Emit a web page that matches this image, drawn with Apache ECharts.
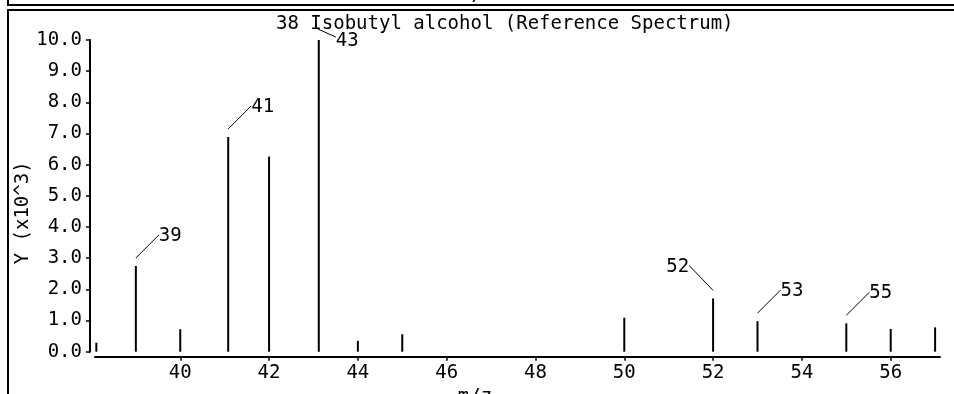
<!DOCTYPE html>
<html>
<head>
<meta charset="utf-8">
<script src="https://cdn.jsdelivr.net/npm/echarts@6/dist/echarts.min.js"></script>
<style>
  html, body { margin: 0; padding: 0; background: #fff; }
  #chart { width: 954px; height: 394px; }
</style>
</head>
<body>
<div id="chart"></div>
<script>
// ---- data ----
const titleText = '38 Isobutyl alcohol (Reference Spectrum)';
const mz = [38.11, 39, 40, 41.08, 42, 43.12, 44, 45, 50, 52, 53, 55, 56, 57];
const intensity = [0.29, 2.75, 0.72, 6.89, 6.26, 10.0, 0.35, 0.56, 1.09, 1.71, 0.98, 0.91, 0.73, 0.78]; // x10^3
const labelledIndex = [1, 3, 5, 9, 10, 11];
const peakLabels = ['39', '41', '43', '52', '53', '55'];
const xTicks = [40, 42, 44, 46, 48, 50, 52, 54, 56];
const xName = 'm/z';
const yName = 'Y (x10^3)';

const FONT = '"DejaVu Sans Mono", "Liberation Mono", monospace';
const FS = 19;

// leader-line styles per label (pixel offsets from bar top)
const leaderStyle = {
  '43': { s: [-1, -11], e: [17, -3], align: 'left', ty: 4 },
  '52': { s: [0, -8], e: [-24, -33], align: 'right', ty: 2 }
};
const defaultLeader = { s: [0, -8], e: [23, -31], align: 'left', ty: 1 };

const chart = echarts.init(document.getElementById('chart'), null, { renderer: 'canvas' });

const option = {
  backgroundColor: '#fff',
  animation: false,
  title: {
    text: titleText,
    left: 271,
    top: 10,
    textStyle: { fontFamily: FONT, fontSize: FS, fontWeight: 'normal', color: '#000' }
  },
  grid: { left: 95, right: 14, top: 40, bottom: 42.3, containLabel: false, outerBoundsMode: 'none' },
  xAxis: {
    type: 'value',
    min: 38.08,
    max: 57.11,
    offset: 5,
    name: xName,
    nameLocation: 'middle',
    nameGap: 22,
    nameTextStyle: { fontFamily: FONT, fontSize: FS, color: '#000', padding: [0, 85, 0, 0] },
    axisLine: { show: true, onZero: false, lineStyle: { color: '#000', width: 2 } },
    axisTick: { show: true, customValues: xTicks, length: 4, lineStyle: { color: '#000', width: 1.5 } },
    axisLabel: { customValues: xTicks, margin: 7, fontFamily: FONT, fontSize: FS, color: '#000' },
    splitLine: { show: false }
  },
  yAxis: {
    type: 'value',
    min: 0,
    max: 10,
    interval: 1,
    offset: 5,
    name: yName,
    nameLocation: 'middle',
    nameGap: 57,
    nameRotate: 90,
    nameMoveOverlap: false,
    nameTextStyle: { fontFamily: FONT, fontSize: FS, color: '#000', padding: [0, 34, 0, 0] },
    axisLine: { show: true, onZero: false, lineStyle: { color: '#000', width: 2 } },
    axisTick: { show: true, length: 4, lineStyle: { color: '#000', width: 1.5 } },
    axisLabel: {
      margin: 8, fontFamily: FONT, fontSize: FS, color: '#000',
      formatter: v => v.toFixed(1)
    },
    splitLine: { show: false }
  },
  series: [
    {
      type: 'bar',
      data: mz.map((x, i) => [x, intensity[i]]),
      barWidth: 2,
      itemStyle: { color: '#000' },
      silent: true
    },
    {
      type: 'custom',
      clip: false,
      silent: true,
      data: labelledIndex.map(i => [mz[i], intensity[i]]),
      renderItem: function (params, api) {
        const p = api.coord([api.value(0), api.value(1)]);
        const lab = peakLabels[params.dataIndex];
        const st = leaderStyle[lab] || defaultLeader;
        const x1 = p[0] + st.s[0], y1 = p[1] + st.s[1];
        const x2 = p[0] + st.e[0], y2 = p[1] + st.e[1];
        return {
          type: 'group',
          children: [
            { type: 'line', shape: { x1: x1, y1: y1, x2: x2, y2: y2 },
              style: { stroke: '#000', lineWidth: 1 } },
            { type: 'text',
              style: { text: lab, x: x2, y: y2 + st.ty, fill: '#000',
                       font: FS + 'px ' + FONT, textAlign: st.align, textVerticalAlign: 'middle' } }
          ]
        };
      }
    }
  ],
  graphic: [
    { type: 'text', left: 460, top: -14,
      style: { text: 'm/z', fill: '#000', font: FS + 'px ' + FONT } },
    { type: 'rect', shape: { x: 7, y: 4, width: 947, height: 2 }, style: { fill: '#000' } },
    { type: 'rect', shape: { x: 7, y: 9, width: 947, height: 2 }, style: { fill: '#000' } },
    { type: 'rect', shape: { x: 7, y: 0, width: 2, height: 5 }, style: { fill: '#000' } },
    { type: 'rect', shape: { x: 7, y: 9, width: 2, height: 385 }, style: { fill: '#000' } }
  ]
};

chart.setOption(option);
</script>
</body>
</html>
